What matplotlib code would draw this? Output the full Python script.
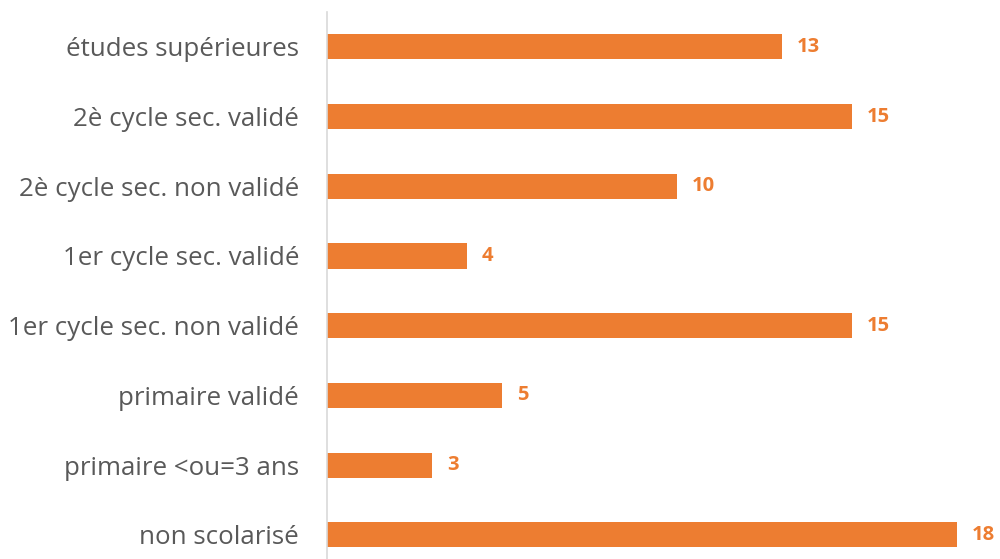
import matplotlib.pyplot as plt

categories = ['études supérieures', '2è cycle sec. validé', '2è cycle sec. non validé',
              '1er cycle sec. validé', '1er cycle sec. non validé', 'primaire validé',
              'primaire <ou=3 ans', 'non scolarisé']
values = [13, 15, 10, 4, 15, 5, 3, 18]

orange = '#ED7D31'

plt.rcParams['font.family'] = ['Open Sans', 'DejaVu Sans']

fig = plt.figure(figsize=(10, 5.59), dpi=100)
ax = fig.add_axes([0.327, -0.019, 0.673, 0.9975])

y = list(range(len(categories)))
ax.barh(y, values, height=0.36, color=orange)
ax.set_ylim(len(categories) - 0.5, -0.5)
ax.set_xlim(0, 19.23)

for yi, v in zip(y, values):
    ax.text(v + 0.42, yi, str(v), va='center', ha='left', color=orange,
            fontsize=14.5, fontweight='bold')

ax.set_yticks(y)
ax.set_yticklabels(categories, fontsize=18.6, color='#595959')
ax.tick_params(axis='y', length=0, pad=20)
ax.set_xticks([])
for side in ['top', 'right', 'bottom']:
    ax.spines[side].set_visible(False)
ax.spines['left'].set_color('#D9D9D9')
ax.spines['left'].set_linewidth(1.2)

fig.savefig('out.png', dpi=100)
